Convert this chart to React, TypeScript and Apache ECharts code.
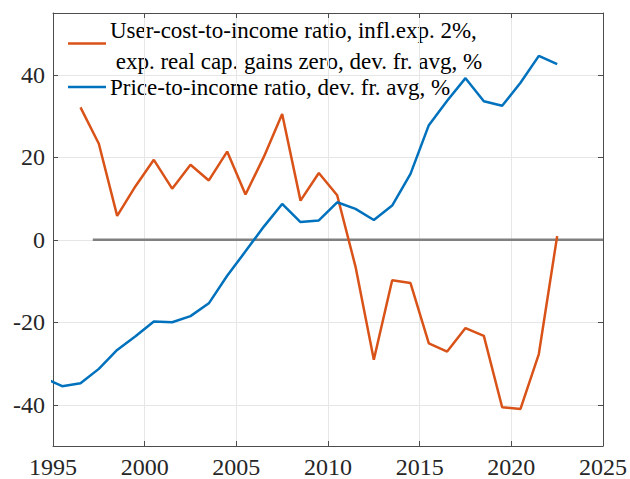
import React, { useEffect, useRef } from "react";
import * as echarts from "echarts";

const priceYears = [
  1994.5, 1995.5, 1996.5, 1997.5, 1998.5, 1999.5, 2000.5, 2001.5, 2002.5, 2003.5,
  2004.5, 2005.5, 2006.5, 2007.5, 2008.5, 2009.5, 2010.5, 2011.5, 2012.5, 2013.5,
  2014.5, 2015.5, 2016.5, 2017.5, 2018.5, 2019.5, 2020.5, 2021.5, 2022.5,
];
const priceToIncome = [
  -33.5, -35.5, -34.8, -31.3, -26.7, -23.4, -19.8, -20.0, -18.5, -15.4,
  -8.7, -2.8, 3.2, 8.7, 4.3, 4.7, 9.1, 7.5, 4.8, 8.3,
  16.0, 27.8, 33.7, 39.2, 33.6, 32.5, 38.1, 44.6, 42.6,
];
const userYears = [
  1996.5, 1997.5, 1998.5, 1999.5, 2000.5, 2001.5, 2002.5, 2003.5, 2004.5, 2005.5,
  2006.5, 2007.5, 2008.5, 2009.5, 2010.5, 2011.5, 2012.5, 2013.5, 2014.5, 2015.5,
  2016.5, 2017.5, 2018.5, 2019.5, 2020.5, 2021.5, 2022.5,
];
const userCost = [
  32.1, 23.3, 5.8, 13.0, 19.4, 12.4, 18.2, 14.4, 21.4, 11.0,
  20.1, 30.5, 9.5, 16.2, 10.8, -6.5, -29.1, -9.8, -10.5, -25.1,
  -27.1, -21.4, -23.3, -40.6, -41.0, -27.7, 0.9,
];
const zeroLineX = [1997.17, 2025];
const zeroLineY = [0, 0];
const yTicks = [-40, -20, 0, 20, 40];
const legendLabels = [
  "User-cost-to-income ratio, infl.exp. 2%,",
  " exp. real cap. gains zero, dev. fr. avg, %",
  "Price-to-income ratio, dev. fr. avg, %",
];

const ORANGE = "#D95319";
const BLUE = "#0072BD";
const FONT = "Liberation Serif";
const TEXT = "#262626";
const AXIS = "#4d4d4d";
const GRID = "#e6e6e6";

export default function App() {
  const ref = useRef<HTMLDivElement>(null);
  useEffect(() => {
    document.body.style.margin = "0";
    if (!ref.current) return;
    const chart = echarts.init(ref.current, null, { renderer: "svg" });
    const zip = (xs: number[], ys: number[]) => xs.map((x, i) => [x, ys[i]]);
    const tickCommon = { show: true, inside: true, length: 5, lineStyle: { color: AXIS, width: 1 } };
    chart.setOption({
      animation: false,
      backgroundColor: "#ffffff",
      textStyle: { fontFamily: FONT },
      grid: { left: 53, right: 27, top: 13, bottom: 31, containLabel: false },
      xAxis: [
        {
          type: "value",
          min: 1995,
          max: 2025,
          interval: 5,
          position: "bottom",
          axisLine: { show: true, onZero: false, lineStyle: { color: AXIS, width: 1 } },
          axisTick: tickCommon,
          axisLabel: { color: TEXT, fontFamily: FONT, fontSize: 24, margin: 9, formatter: (v: number) => String(v) },
          splitLine: { show: true, lineStyle: { color: GRID, width: 1 } },
        },
        {
          type: "value",
          min: 1995,
          max: 2025,
          interval: 5,
          position: "top",
          axisLine: { show: true, onZero: false, lineStyle: { color: AXIS, width: 1 } },
          axisTick: tickCommon,
          axisLabel: { show: false },
          splitLine: { show: false },
        },
      ],
      yAxis: [
        {
          type: "value",
          min: -50,
          max: 55,
          position: "left",
          axisLine: { show: true, onZero: false, lineStyle: { color: AXIS, width: 1 } },
          axisTick: { ...tickCommon, customValues: yTicks },
          axisLabel: { color: TEXT, fontFamily: FONT, fontSize: 24, margin: 8, customValues: yTicks },
          splitLine: { show: true, lineStyle: { color: GRID, width: 1 } },
        },
        {
          type: "value",
          min: -50,
          max: 55,
          position: "right",
          axisLine: { show: true, onZero: false, lineStyle: { color: AXIS, width: 1 } },
          axisTick: { ...tickCommon, customValues: yTicks },
          axisLabel: { show: false, customValues: yTicks },
          splitLine: { show: false },
        },
      ],
      series: [
        {
          type: "line",
          data: zip(zeroLineX, zeroLineY),
          showSymbol: false,
          symbol: "none",
          lineStyle: { color: "#808080", width: 2.5 },
          z: 1,
        },
        {
          type: "line",
          name: "User-cost",
          data: zip(userYears, userCost),
          showSymbol: false,
          symbol: "none",
          lineStyle: { color: ORANGE, width: 2.5 },
          z: 2,
        },
        {
          type: "line",
          name: "Price",
          data: zip(priceYears, priceToIncome),
          showSymbol: false,
          symbol: "none",
          clip: true,
          lineStyle: { color: BLUE, width: 2.5 },
          z: 3,
        },
      ],
      graphic: [
        { type: "line", shape: { x1: 68, y1: 43.5, x2: 106, y2: 43.5 }, style: { stroke: ORANGE, lineWidth: 2.5 } },
        { type: "line", shape: { x1: 68, y1: 87, x2: 106, y2: 87 }, style: { stroke: BLUE, lineWidth: 2.5 } },
        {
          type: "text", x: 110, y: 30,
          style: { text: legendLabels[0], font: `23px "${FONT}"`, fill: "#000", verticalAlign: "middle" },
        },
        {
          type: "text", x: 110, y: 61,
          style: { text: legendLabels[1], font: `23px "${FONT}"`, fill: "#000", verticalAlign: "middle" },
        },
        {
          type: "text", x: 110, y: 87,
          style: { text: legendLabels[2], font: `23px "${FONT}"`, fill: "#000", verticalAlign: "middle" },
        },
      ],
    });
    return () => chart.dispose();
  }, []);
  return <div ref={ref} style={{ width: 630, height: 479 }} />;
}
